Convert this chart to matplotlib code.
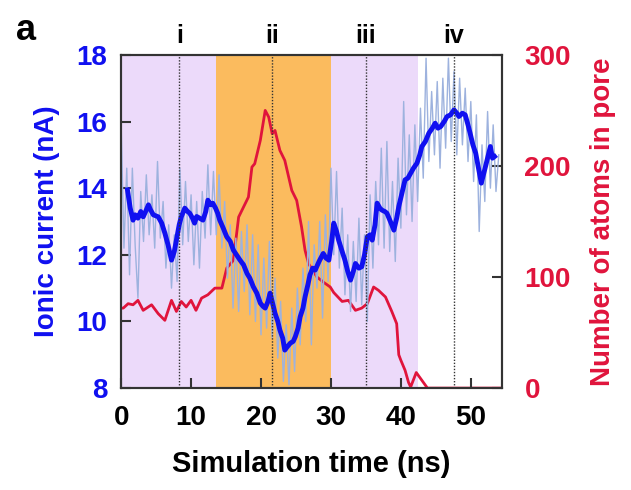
import numpy as np
import matplotlib
matplotlib.use('Agg')
import matplotlib.pyplot as plt

plt.rcParams['font.family'] = ['Liberation Sans', 'DejaVu Sans']
plt.rcParams['font.weight'] = 'bold'

# ionic current, running average (ns, nA)
t_smooth = [0.9, 1.3, 1.7, 2.0, 2.4, 2.8, 3.15, 3.5, 3.9, 4.2, 4.6, 5.3, 5.8, 6.25, 6.7,
            7.2, 7.6, 7.9, 8.3, 8.6, 9.1, 9.5, 9.8, 10.2, 10.5, 10.8, 11.2, 11.7, 12.1,
            12.4, 12.8, 13.1, 13.5, 13.8, 14.1, 14.6, 15.1, 15.6, 16.05, 16.5, 17.0,
            17.5, 18.0, 18.4, 18.9, 19.4, 19.9, 20.3, 20.6, 21.0, 21.3, 21.7, 22.0,
            22.4, 22.7, 23.1, 23.4, 23.8, 24.2, 24.6, 24.9, 25.3, 25.6, 26.0, 26.3,
            26.7, 27.0, 27.4, 27.75, 28.3, 28.9, 29.3, 29.7, 30.1, 30.4, 30.8, 31.1,
            31.6, 32.0, 32.4, 32.8, 33.2, 33.5, 34.0, 34.4, 34.8, 35.2, 35.6, 35.9,
            36.3, 36.6, 37.0, 37.3, 37.7, 38.0, 38.5, 39.0, 39.4, 39.7, 40.2, 40.6,
            41.0, 41.4, 41.8, 42.3, 42.7, 43.0, 43.5, 44.0, 44.5, 44.9, 45.3, 45.7,
            46.2, 46.6, 47.1, 47.6, 48.0, 48.3, 48.8, 49.2, 49.6, 49.9, 50.3, 50.7,
            51.1, 51.5, 51.8, 52.1, 52.5, 52.8, 53.1, 53.4]
i_smooth = [13.95, 13.4, 13.04, 13.2, 13.1, 13.3, 13.14, 13.3, 13.5, 13.35, 13.2, 13.14,
            12.95, 12.65, 12.3, 11.84, 12.1, 12.44, 12.9, 13.14, 13.4, 13.3, 13.25, 13.1,
            12.95, 13.15, 13.1, 13.04, 13.3, 13.64, 13.5, 13.55, 13.4, 13.25, 13.04,
            12.8, 12.54, 12.4, 12.14, 12.0, 11.84, 11.7, 11.44, 11.3, 11.04, 10.85,
            10.55, 10.45, 10.4, 10.6, 10.85, 10.5, 10.25, 10.0, 9.74, 9.5, 9.14, 9.25,
            9.35, 9.4, 9.54, 9.8, 10.14, 10.4, 10.74, 11.1, 11.4, 11.6, 11.54, 11.8,
            12.04, 11.9, 11.84, 12.4, 12.95, 12.7, 12.44, 12.1, 11.84, 11.5, 11.24,
            11.5, 11.74, 11.6, 11.64, 12.0, 12.54, 12.6, 12.44, 12.9, 13.55, 13.4,
            13.34, 13.3, 13.25, 13.0, 12.74, 13.1, 13.45, 13.9, 14.25, 14.3, 14.45,
            14.6, 14.75, 15.0, 15.25, 15.4, 15.65, 15.8, 15.95, 15.8, 15.85, 16.0,
            16.15, 16.2, 16.35, 16.25, 16.15, 16.25, 16.2, 15.9, 15.65, 15.3, 15.05,
            14.6, 14.15, 14.4, 14.65, 15.0, 15.25, 14.9, 14.95]

# ionic current, raw trace (every 0.4 ns)
t_raw = [round(0.4 * k, 1) for k in range(136)]
i_raw = [15.9, 12.2, 14.6, 11.4, 14.6, 12.3, 10.7, 13.9, 12.4, 14.4,
         12.6, 13.8, 12.2, 14.8, 12.5, 13.6, 11.6, 12.9, 11.0, 12.6,
         11.2, 14.6, 12.3, 14.2, 12.4, 13.8, 11.7, 13.6, 11.6, 13.9,
         12.5, 14.7, 12.6, 14.5, 12.6, 14.4, 12.2, 13.6, 11.3, 12.9,
         10.4, 12.5, 10.3, 12.7, 10.9, 12.9, 10.2, 12.6, 10.0, 12.3,
         9.6, 11.9, 9.8, 12.4, 9.5, 11.3, 8.9, 10.6, 8.2, 9.9,
         8.1, 10.4, 8.5, 11.0, 9.3, 11.6, 10.0, 13.0, 9.3, 12.3,
         11.0, 13.0, 10.1, 13.2, 11.2, 14.6, 12.0, 14.5, 11.6, 13.4,
         10.8, 12.6, 10.3, 12.4, 10.6, 13.1, 10.5, 12.6, 10.0, 13.8,
         11.6, 14.2, 12.3, 15.2, 12.2, 15.4, 12.1, 14.2, 11.8, 14.9,
         12.8, 16.6, 13.2, 15.6, 13.0, 15.9, 13.6, 16.4, 14.3, 17.9,
         14.8, 16.9, 15.0, 17.2, 14.6, 17.3, 15.2, 17.9, 15.4, 17.5,
         15.0, 17.3, 15.3, 17.0, 14.8, 16.6, 14.2, 16.2, 12.7, 15.3,
         13.6, 16.3, 14.0, 15.9, 13.9, 15.0]

# atoms in pore
t_atoms = [0.0, 0.3, 1.0, 1.7, 2.4, 3.15, 4.35, 5.3, 6.25, 7.2, 7.9, 8.6, 9.3, 10.0,
           10.7, 11.5, 12.4, 13.4, 14.4, 15.1, 16.05, 16.8, 17.5, 18.2, 18.7, 19.1,
           19.9, 20.6, 21.1, 21.6, 22.0, 22.7, 23.4, 24.4, 25.1, 25.8, 26.3, 26.8,
           27.1, 28.0, 29.0, 29.9, 30.4, 31.6, 32.5, 33.5, 34.4, 35.2, 36.1, 36.8,
           37.8, 38.7, 39.4, 39.7, 40.0, 40.6, 41.1, 41.4, 42.2, 43.0, 43.8, 54.5]
n_atoms = [72, 72, 76, 75, 79, 70, 75, 67, 61, 79, 69, 78, 73, 79,
           70, 81, 84, 90, 90, 108, 115, 154, 163, 172, 199, 202,
           223, 250, 244, 229, 232, 214, 205, 178, 169, 145, 124, 112,
           109, 100, 95, 91, 86, 78, 79, 70, 72, 76, 91, 88,
           82, 69, 58, 30, 25, 16, 5, 1, 14, 7, 0, 0]

# shaded stages and snapshot times
violet_spans = [(0, 13.5), (30.0, 42.5)]
orange_spans = [(13.5, 30.0)]
snap_t = [8.3, 21.6, 35.0, 47.6]
snap_lbl = ['i', 'ii', 'iii', 'iv']

blue = '#1010f0'
red = '#e0143c'

fig = plt.figure(figsize=(6.31, 4.90), dpi=100)
ax = fig.add_axes([0.192, 0.208, 0.604, 0.680])
ax2 = ax.twinx()
ax.set_zorder(ax2.get_zorder() + 1)
ax.patch.set_visible(False)

for a, b in violet_spans:
    ax2.axvspan(a, b, color='#ecdafa', lw=0, zorder=0)
for a, b in orange_spans:
    ax2.axvspan(a, b, color='#fbbb5e', lw=0, zorder=0)

ax2.plot(t_atoms, n_atoms, color=red, lw=2.0, zorder=3)

ax.plot(t_raw, i_raw, color='#9db2de', lw=1.0, zorder=2)
ax.plot(t_smooth, i_smooth, color=blue, lw=3.5, zorder=3)

for x, s in zip(snap_t, snap_lbl):
    ax.axvline(x, color='#333333', lw=1.0, ls=(0, (1, 1.2)), zorder=4)
    ax.text(x, 18.2, s, ha='center', va='bottom', fontsize=18, fontweight='bold')

ax.set_xlim(0, 54.5)
ax.set_ylim(8, 18)
ax2.set_ylim(0, 300)
ax.set_xticks([0, 10, 20, 30, 40, 50])
ax.set_yticks([8, 10, 12, 14, 16, 18])
ax2.set_yticks([0, 100, 200, 300])

ax.tick_params(axis='both', direction='in', length=7, width=1.5, labelsize=20,
               color='#333333')
ax.tick_params(axis='x', pad=12)
ax.tick_params(axis='y', labelcolor=blue, pad=10)
ax2.tick_params(axis='y', direction='in', length=7, width=1.5, labelsize=20,
                labelcolor=red, color='#333333', pad=16)
for lab in ax.get_xticklabels() + ax.get_yticklabels() + ax2.get_yticklabels():
    lab.set_fontweight('bold')

for sp in list(ax2.spines.values()) + list(ax.spines.values()):
    sp.set_linewidth(1.5)
    sp.set_color('#333333')

ax.set_xlabel('Simulation time (ns)', fontsize=21, fontweight='bold', labelpad=14)
ax.set_ylabel('Ionic current (nA)', fontsize=20, fontweight='bold', color=blue,
              labelpad=12)
ax2.set_ylabel('Number of atoms in pore', fontsize=20, fontweight='bold', color=red,
               labelpad=14)

fig.text(0.041, 0.938, 'a', fontsize=26, fontweight='bold', ha='center', va='center')

fig.savefig('out.png', dpi=100)
